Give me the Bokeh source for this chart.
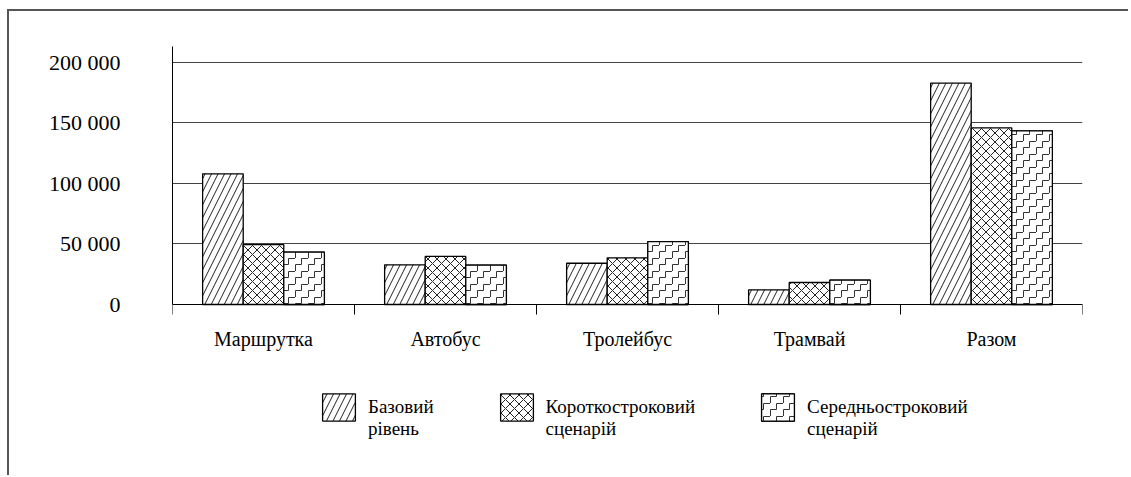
import base64
from bokeh.plotting import figure
from bokeh.core.properties import value
from bokeh.models import (Range1d, FixedTicker, Legend, LegendItem, ImageURLTexture, ColumnDataSource)
from bokeh.embed import file_html
from bokeh.resources import INLINE

# ---- data ----
categories = ["Маршрутка", "Автобус", "Тролейбус", "Трамвай", "Разом"]
series_names = ["Базовий\nрівень", "Короткостроковий\nсценарій", "Середньостроковий\nсценарій"]
base_level = [108000, 32800, 34100, 12100, 182900]
short_term = [49500, 39700, 38600, 18200, 146000]
mid_term = [43200, 32500, 52000, 20100, 143500]
y_ticks = [0, 50000, 100000, 150000, 200000]
y_tick_labels = ["0", "50 000", "100 000", "150 000", "200 000"]
y_top = 213200

FONT = "Liberation Serif"

# opaque stair-step tile (white background + step line)
tile = ("<svg xmlns='http://www.w3.org/2000/svg' width='13' height='13'>"
        "<rect width='13' height='13' fill='white'/>"
        "<path d='M0.5 13 V6.5 H6.5 V0.5 H13' fill='none' stroke='#333' stroke-width='1'/></svg>")
stairs = ImageURLTexture(url="data:image/svg+xml;base64," + base64.b64encode(tile.encode()).decode())

W, H = 1121, 466
TOP, FRAME_H_PLOT = 35, 258
frame_h = H - TOP
y_bottom = -y_top * (frame_h - FRAME_H_PLOT) / FRAME_H_PLOT   # room below the axis for the legend

p = figure(width=W, height=H, output_backend="svg", toolbar_location=None,
           x_range=Range1d(0, len(categories)), y_range=Range1d(y_bottom, y_top),
           min_border_left=163, min_border_right=48, min_border_top=TOP, min_border_bottom=0)
p.styles = {"border-top": "2px solid #555", "border-left": "2px solid #555",
            "margin-left": "7px", "margin-top": "9px"}
p.outline_line_color = None
p.background_fill_color = "white"
p.border_fill_color = "white"

centers = [i + 0.5 for i in range(len(categories))]
bw = 0.223
offsets = [-bw, 0.0, bw]
patterns = ["/", "x", ","]
scales = [13, 9, 13]
values = [base_level, short_term, mid_term]

legend_renderers = []
for k in range(3):
    src = ColumnDataSource(dict(x=[c + offsets[k] for c in centers], top=values[k]))
    r = p.vbar(x="x", top="top", width=bw, bottom=0, source=src,
               fill_color="white", line_color="black", line_width=1.3,
               hatch_pattern=value(patterns[k]), hatch_color="#222", hatch_weight=1,
               hatch_scale=scales[k])
    rs = [r]
    if k == 2:
        # stair texture drawn over the plain hatch
        r2 = p.vbar(x="x", top="top", width=bw, bottom=0, source=src,
                    fill_alpha=0, line_color="black", line_width=1.3,
                    hatch_pattern=value("stairs"), hatch_extra={"stairs": stairs})
        rs.append(r2)
    legend_renderers.append(rs)

# x axis at y = 0: labels at centres, ticks at category boundaries
xa = p.xaxis[0]
xa.fixed_location = 0
xa.ticker = FixedTicker(ticks=centers, minor_ticks=list(range(len(categories) + 1)))
xa.major_label_overrides = {c: n for c, n in zip(centers, categories)}
xa.major_tick_out = 0
xa.major_tick_in = 0
xa.minor_tick_out = 10
xa.minor_tick_in = 0
xa.minor_tick_line_color = "black"
xa.axis_line_color = "black"
xa.major_label_text_font = FONT
xa.major_label_text_font_size = "20px"
xa.major_label_text_color = "black"
xa.major_label_standoff = 13

ya = p.yaxis[0]
ya.bounds = (0, y_top)
ya.ticker = FixedTicker(ticks=y_ticks)
ya.major_label_overrides = {t: l for t, l in zip(y_ticks, y_tick_labels)}
ya.major_tick_out = 0
ya.major_tick_in = 0
ya.minor_tick_line_color = None
ya.axis_line_color = "black"
ya.major_label_text_font = FONT
ya.major_label_text_font_size = "22px"
ya.major_label_text_color = "black"
ya.major_label_standoff = 52

p.xgrid.grid_line_color = None
p.ygrid.ticker = FixedTicker(ticks=y_ticks)
p.ygrid.grid_line_color = "#444"
p.ygrid.grid_line_width = 1

# a blank first line keeps the swatch level with the first text line
legend_labels = [" \n" + s for s in series_names]
legend = Legend(items=[LegendItem(label=legend_labels[k], renderers=legend_renderers[k]) for k in range(3)],
                orientation="horizontal", location=(146, 37),
                glyph_width=41, glyph_height=34, label_standoff=9, spacing=62,
                padding=0, margin=0, border_line_color=None, background_fill_alpha=0,
                label_text_font=FONT, label_text_font_size="19px", label_text_color="black")
p.add_layout(legend, "center")

open("out.html", "w").write(file_html(p, INLINE))
